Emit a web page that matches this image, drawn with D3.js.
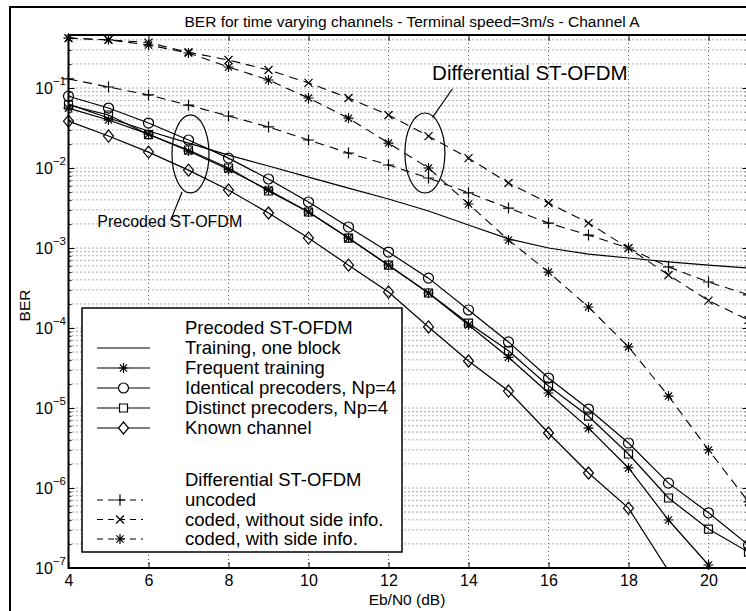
<!DOCTYPE html>
<html>
<head>
<meta charset="utf-8">
<script src="https://cdn.jsdelivr.net/npm/d3@7"></script>
<style>
  html, body { margin: 0; padding: 0; background: #fff; overflow: hidden; }
  svg { display: block; font-family: 'Liberation Sans', Arial, Helvetica, sans-serif; }
  .grid line { stroke: #5a5a5a; stroke-width: 1; stroke-dasharray: 1,3; }
  .tick line { stroke: #000; }
</style>
</head>
<body>
<script>
'use strict';

// Eb/N0 in dB, one value per simulated point
const snr = [4, 5, 6, 7, 8, 9, 10, 11, 12, 13, 14, 15, 16, 17, 18, 19, 20, 21];

// precoded ST-OFDM
const trainingOneBlock = [0.063, 0.0422, 0.029, 0.0205, 0.0145, 0.0106, 7.7e-3, 5.6e-3, 4.1e-3, 2.9e-3,
  1.94e-3, 1.3e-3, 1.0e-3, 8.4e-4, 7.5e-4, 6.7e-4, 6.1e-4, 5.6e-4];
const frequentTraining = [0.056, 0.0398, 0.0265, 0.0163, 9.6e-3, 5.3e-3, 2.82e-3, 1.33e-3, 6.1e-4, 2.74e-4,
  1.09e-4, 4.3e-5, 1.54e-5, 5.6e-6, 1.78e-6, 3.98e-7, 1.09e-7];
const identicalPrecoders = [0.079, 0.0562, 0.0365, 0.0224, 0.0133, 7.29e-3, 3.76e-3, 1.83e-3, 8.9e-4, 4.2e-4,
  1.68e-4, 6.7e-5, 2.37e-5, 9.7e-6, 3.65e-6, 1.15e-6, 4.9e-7, 1.94e-7];
const distinctPrecoders = [0.0613, 0.046, 0.0262, 0.0168, 1.0e-2, 5.16e-3, 2.82e-3, 1.33e-3, 6.1e-4, 2.74e-4,
  1.15e-4, 5.2e-5, 1.88e-5, 7.9e-6, 2.66e-6, 7.5e-7, 3.07e-7, 1.58e-7];
const knownChannel = [0.0385, 0.0251, 0.0158, 9.4e-3, 5.3e-3, 2.74e-3, 1.33e-3, 6.1e-4, 2.82e-4, 1.03e-4,
  3.87e-5, 1.63e-5, 4.87e-6, 1.54e-6, 5.6e-7, 9.2e-8];

// differential ST-OFDM
const diffUncoded = [0.13, 0.103, 0.082, 0.061, 0.0447, 0.0326, 0.0224, 0.0154, 0.0109, 7.5e-3,
  4.9e-3, 3.16e-3, 2.05e-3, 1.45e-3, 1.0e-3, 5.8e-4, 3.76e-4, 2.6e-4];
const diffCodedNoSide = [0.42, 0.40, 0.37, 0.28, 0.224, 0.168, 0.116, 0.075, 0.046, 0.025,
  0.0133, 6.5e-3, 3.65e-3, 2.05e-3, 1.0e-3, 4.6e-4, 2.2e-4, 1.26e-4];
const diffCodedSide = [0.42, 0.40, 0.345, 0.274, 0.183, 0.126, 0.075, 0.042, 0.0205, 0.01,
  3.55e-3, 1.26e-3, 5.0e-4, 1.83e-4, 5.8e-5, 1.41e-5, 2.99e-6, 6.7e-7];

const xTicks = [4, 6, 8, 10, 12, 14, 16, 18, 20];
const yDecades = [-7, -6, -5, -4, -3, -2, -1];

const titleText = 'BER for time varying channels - Terminal speed=3m/s - Channel A';
const xLabel = 'Eb/N0 (dB)';
const yLabel = 'BER';

const legendPrecodedTitle = 'Precoded ST-OFDM';
const legendPrecoded = ['Training, one block', 'Frequent training', 'Identical precoders, Np=4',
  'Distinct precoders, Np=4', 'Known channel'];
const legendDiffTitle = 'Differential ST-OFDM';
const legendDiff = ['uncoded', 'coded, without side info.', 'coded, with side info.'];

const W = 746, H = 611;
const plot = { l: 68.5, r: 748.5, t: 35, b: 568 };

const x = d3.scaleLinear().domain([4, 21]).range([plot.l, plot.r]);
const y = d3.scaleLog().domain([1e-7, 0.46]).range([plot.b, plot.t]);

const series = [
  { values: trainingOneBlock, marker: null, dashed: false },
  { values: frequentTraining, marker: 'star', dashed: false },
  { values: identicalPrecoders, marker: 'circle', dashed: false },
  { values: distinctPrecoders, marker: 'square', dashed: false },
  { values: knownChannel, marker: 'diamond', dashed: false },
  { values: diffUncoded, marker: 'plus', dashed: true },
  { values: diffCodedNoSide, marker: 'cross', dashed: true },
  { values: diffCodedSide, marker: 'star', dashed: true }
];

const svg = d3.select('body').append('svg')
    .attr('width', W)
    .attr('height', H);

svg.append('rect').attr('width', W).attr('height', H).attr('fill', '#fff');

// outer figure frame (only left and top edges are visible in the crop)
svg.append('path')
    .attr('d', `M 10 ${H} L 10 7 L ${W} 7`)
    .attr('fill', 'none')
    .attr('stroke', '#000')
    .attr('stroke-width', 2);

svg.append('defs').append('clipPath').attr('id', 'plotclip')
  .append('rect')
    .attr('x', plot.l).attr('y', plot.t)
    .attr('width', plot.r - plot.l).attr('height', plot.b - plot.t);

// grid: minor + major log lines, vertical lines at x ticks
const yAll = [];
yDecades.forEach(k => {
  for (let m = 1; m < 10; m++) {
    const v = m * Math.pow(10, k);
    if (v <= y.domain()[1]) yAll.push(v);
  }
});

const grid = svg.append('g').classed('grid', true);
grid.selectAll('line.h').data(yAll.filter(v => v > 1e-7)).enter().append('line')
    .classed('h', true)
    .attr('x1', plot.l).attr('x2', plot.r)
    .attr('y1', d => y(d)).attr('y2', d => y(d));
grid.selectAll('line.v').data(xTicks.filter(v => v > 4)).enter().append('line')
    .classed('v', true)
    .attr('y1', plot.t).attr('y2', plot.b)
    .attr('x1', d => x(d)).attr('x2', d => x(d));

// axes with inward ticks
const bottomAxis = svg.append('g')
    .attr('transform', `translate(0, ${plot.b})`)
    .call(d3.axisBottom(x).tickValues(xTicks).tickSizeInner(-6).tickSizeOuter(0).tickPadding(7));
bottomAxis.attr('font-family', null).attr('font-size', null);
bottomAxis.selectAll('text').attr('font-size', 16).attr('fill', '#000');

svg.append('g')
    .attr('transform', `translate(0, ${plot.t})`)
    .call(d3.axisTop(x).tickValues(xTicks).tickSizeInner(-6).tickSizeOuter(0).tickFormat(''));

svg.append('g')
    .attr('transform', `translate(${plot.l}, 0)`)
    .call(d3.axisLeft(y).tickValues(yDecades.map(k => Math.pow(10, k))).tickSizeInner(-6).tickSizeOuter(0).tickFormat(''));
svg.append('g')
    .attr('transform', `translate(${plot.l}, 0)`)
    .call(d3.axisLeft(y).tickValues(yAll).tickSizeInner(-3).tickSizeOuter(0).tickFormat(''));
svg.append('g')
    .attr('transform', `translate(${plot.r}, 0)`)
    .call(d3.axisRight(y).tickValues(yDecades.map(k => Math.pow(10, k))).tickSizeInner(-6).tickSizeOuter(0).tickFormat(''));
svg.append('g')
    .attr('transform', `translate(${plot.r}, 0)`)
    .call(d3.axisRight(y).tickValues(yAll).tickSizeInner(-3).tickSizeOuter(0).tickFormat(''));
svg.selectAll('.domain').remove();

// y tick labels as 10^k
const ylab = svg.append('g').selectAll('text').data(yDecades).enter().append('text')
    .attr('text-anchor', 'end')
    .attr('x', 66)
    .attr('y', d => y(Math.pow(10, d)) + 6)
    .attr('font-size', 16);
ylab.append('tspan').text('10');
ylab.append('tspan')
    .attr('dy', -9)
    .attr('font-size', 11.5)
    .text(d => '\u2212' + (-d));

// plot box
svg.append('rect')
    .attr('x', plot.l).attr('y', plot.t)
    .attr('width', plot.r - plot.l).attr('height', plot.b - plot.t)
    .attr('fill', 'none')
    .attr('stroke', '#000')
    .attr('stroke-width', 2);

// data
function markerPath(type) {
  switch (type) {
    case 'circle': return 'M -5 0 A 5 5 0 1 0 5 0 A 5 5 0 1 0 -5 0 Z';
    case 'square': return 'M -4 -4 L 4 -4 L 4 4 L -4 4 Z';
    case 'diamond': return 'M 0 -6 L 5 0 L 0 6 L -5 0 Z';
    case 'plus': return 'M -5.5 0 L 5.5 0 M 0 -5.5 L 0 5.5';
    case 'cross': return 'M -4 -4 L 4 4 M -4 4 L 4 -4';
    case 'star': return 'M -5 0 L 5 0 M 0 -5 L 0 5 M -3.6 -3.6 L 3.6 3.6 M -3.6 3.6 L 3.6 -3.6';
  }
  return '';
}

const line = d3.line()
    .x((d, i) => x(snr[i]))
    .y(d => y(d));

const datag = svg.append('g');
const linesg = datag.append('g').attr('clip-path', 'url(#plotclip)');
linesg.selectAll('path').data(series).enter().append('path')
    .attr('d', d => line(d.values))
    .attr('fill', 'none')
    .attr('stroke', '#000')
    .attr('stroke-width', d => d.dashed ? 1.1 : 1.2)
    .attr('stroke-dasharray', d => d.dashed ? '9,6' : null);

series.filter(s => s.marker).forEach(s => {
  datag.append('g').selectAll('path')
      .data(s.values.map((v, i) => [snr[i], v]).filter(p => p[1] >= 1e-7 && p[0] <= 21))
      .enter().append('path')
      .attr('transform', p => `translate(${x(p[0])}, ${y(p[1])})`)
      .attr('d', markerPath(s.marker))
      .attr('fill', 'none')
      .attr('stroke', '#000')
      .attr('stroke-width', 1.2);
});

// annotations
function annot(cxDb, cyVal, rx, ry) {
  svg.append('ellipse')
      .attr('cx', x(cxDb)).attr('cy', y(cyVal))
      .attr('rx', rx).attr('ry', ry)
      .attr('fill', 'none')
      .attr('stroke', '#000')
      .attr('stroke-width', 1.2);
}
annot(7.05, 0.015, 18.5, 39);
annot(12.91, 0.0154, 20, 40);

svg.append('line')
    .attr('x1', x(6.84)).attr('y1', y(5.0e-3))
    .attr('x2', x(6.55)).attr('y2', y(2.2e-3))
    .attr('stroke', '#000').attr('stroke-width', 1.2);
svg.append('line')
    .attr('x1', x(13.1)).attr('y1', y(0.043))
    .attr('x2', x(13.6)).attr('y2', y(0.098))
    .attr('stroke', '#000').attr('stroke-width', 1.2);

svg.append('text')
    .attr('x', x(4.72)).attr('y', y(1.85e-3))
    .attr('font-size', 16)
    .text(legendPrecodedTitle);
svg.append('text')
    .attr('x', x(13.09)).attr('y', y(0.125))
    .attr('font-size', 20.5)
    .text(legendDiffTitle);

// title and axis labels
svg.append('text')
    .attr('x', 412).attr('y', 27)
    .attr('text-anchor', 'middle')
    .attr('font-size', 15.5)
    .text(titleText);
svg.append('text')
    .attr('x', 407).attr('y', 605)
    .attr('text-anchor', 'middle')
    .attr('font-size', 15.5)
    .text(xLabel);
svg.append('text')
    .attr('transform', `translate(30, ${(plot.t + plot.b) / 2 + 4}) rotate(-90)`)
    .attr('text-anchor', 'middle')
    .attr('font-size', 15.5)
    .text(yLabel);

// legend
const lg = svg.append('g');
lg.append('rect')
    .attr('x', 82).attr('y', 308)
    .attr('width', 320).attr('height', 244)
    .attr('fill', '#fff')
    .attr('stroke', '#000')
    .attr('stroke-width', 1.5);

const legendRows = [{ label: legendPrecodedTitle, s: null, y: 334 }]
    .concat(legendPrecoded.map((t, i) => ({ label: t, s: series[i], y: 354 + i * 20 })))
    .concat([{ label: legendDiffTitle, s: null, y: 486 }])
    .concat(legendDiff.map((t, i) => ({ label: t, s: series[5 + i], y: 506 + i * 19.5 })));

const rowg = lg.selectAll('g.row').data(legendRows).enter().append('g').classed('row', true)
    .attr('transform', d => `translate(0, ${d.y})`);
rowg.append('text')
    .attr('x', 185)
    .attr('y', 0)
    .attr('font-size', 18.5)
    .text(d => d.label);
const samp = rowg.filter(d => d.s);
samp.append('line')
    .attr('x1', 97).attr('x2', d => d.s.dashed ? 143 : 150)
    .attr('y1', -6).attr('y2', -6)
    .attr('stroke', '#000')
    .attr('stroke-width', 1.2)
    .attr('stroke-dasharray', d => d.s.dashed ? '6,5' : null);
samp.filter(d => d.s.marker).append('path')
    .attr('transform', d => `translate(${d.s.dashed ? 120 : 123.5}, -6)`)
    .attr('d', d => markerPath(d.s.marker))
    .attr('fill', d => d.s.dashed ? 'none' : '#fff')
    .attr('stroke', '#000')
    .attr('stroke-width', 1.2);
</script>
</body>
</html>
